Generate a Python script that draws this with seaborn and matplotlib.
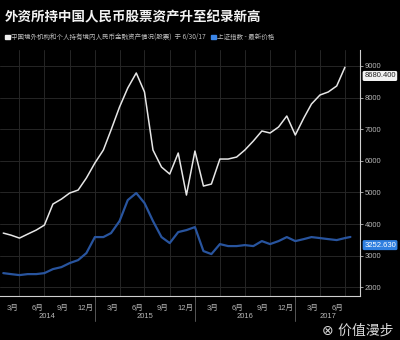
import matplotlib
matplotlib.use("Agg")
import matplotlib.pyplot as plt
import matplotlib.dates as mdates
import matplotlib.transforms as mtransforms
import seaborn as sns
import pandas as pd
import numpy as np

# ---------------- data ----------------
months = pd.date_range("2014-01-31", "2017-06-30", freq="ME")

foreign_holdings = [3715, 3650, 3557, 3683, 3810, 3968, 4633, 4790, 4981, 5076,
                    5456, 5930, 6342, 6975, 7703, 8304, 8778, 8177, 6342, 5804,
                    5582, 6247, 4918, 6310, 5203, 5266, 6057, 6057, 6120, 6342,
                    6627, 6943, 6880, 7070, 7418, 6816, 7354, 7797, 8082, 8177,
                    8367, 8960]

sse_dates = list(months) + [pd.Timestamp("2017-07-20")]
sse_close = [2109, 2078, 2046, 2078, 2078, 2109, 2236, 2299, 2426, 2521,
             2742, 3249, 3249, 3375, 3755, 4419, 4641, 4325, 3755, 3249,
             3059, 3407, 3470, 3565, 2806, 2711, 3027, 2964, 2964, 2995,
             2964, 3122, 3027, 3122, 3249, 3122, 3185, 3249, 3217, 3185,
             3154, 3217, 3252.63]

title = "外资所持中国人民币股票资产升至纪录新高"
legend_white = "中国境外机构和个人持有境内人民币金融资产情况(股票)  于 6/30/17"
legend_blue = "上证指数 - 最新价格"
white_label = "8680.400"
blue_label = "3252.630"
y_ticks = [2000, 3000, 4000, 5000, 6000, 7000, 8000, 9000]
quarter_ticks = pd.date_range("2014-03-31", "2017-06-30", freq="QE")
quarter_labels = [f"{d.month}月" for d in quarter_ticks]
years = ["2014", "2015", "2016", "2017"]
year_pos = pd.to_datetime(["2014-07-08", "2015-07-01", "2016-07-01", "2017-04-28"])
year_ends = pd.to_datetime(["2014-12-31", "2015-12-31", "2016-12-31"])

df_w = pd.DataFrame({"date": months, "value": foreign_holdings})
df_b = pd.DataFrame({"date": sse_dates, "value": sse_close})

# ---------------- style ----------------
sns.set_style("dark")
plt.rcParams["font.family"] = ["Liberation Sans", "Noto Sans CJK SC", "DejaVu Sans"]
bg = "#000000"
grid_c = "#262626"
txt_c = "#b8b8b8"

fig = plt.figure(figsize=(4.0, 3.4), dpi=100, facecolor=bg)
ax = fig.add_axes([0.0, 0.129, 0.9, 0.724])
ax.set_facecolor(bg)
ax2 = ax.twinx()

sns.lineplot(data=df_w, x="date", y="value", ax=ax, color="#e6e6e6", linewidth=1.1)
sns.lineplot(data=df_b, x="date", y="value", ax=ax2, color="#28549e", linewidth=1.6)

xlim = (pd.Timestamp("2014-01-19"), pd.Timestamp("2017-08-24"))
ax.set_xlim(xlim)
ax.set_ylim(1721, 9506)
ax2.set_ylim(1721 - 340, 9506 - 340)

ax.set_xlabel("")
ax.set_ylabel("")
ax2.set_ylabel("")
ax2.set_yticks([])
ax2.grid(False)
for s in ax2.spines.values():
    s.set_visible(False)

# y axis on the right
ax.yaxis.tick_right()
ax.set_yticks(y_ticks)
ax.set_yticklabels([str(v) for v in y_ticks])
ax.tick_params(axis="y", colors=txt_c, labelsize=5.5, length=2, width=0.6, pad=1.5,
               left=False, right=True, labelleft=False, labelright=True)

# x axis
ax.set_xticks(quarter_ticks)
ax.set_xticklabels(quarter_labels)
ax.tick_params(axis="x", which="major", colors=txt_c, labelsize=5.5, length=5,
               width=0.6, pad=1, direction="out")
for lbl in ax.get_xticklabels():
    lbl.set_ha("right")
    lbl.set_transform(lbl.get_transform() + mtransforms.ScaledTranslation(-1 / 72, 0, fig.dpi_scale_trans))
ax.set_xticks(year_pos, minor=True)
ax.set_xticklabels(years, minor=True)
ax.tick_params(axis="x", which="minor", colors=txt_c, labelsize=5.5, length=0, pad=12)

ax.grid(True, which="major", color=grid_c, linewidth=0.7)
ax.grid(False, which="minor")

for name, s in ax.spines.items():
    if name in ("right", "bottom"):
        s.set_visible(True)
        s.set_color("#d0d0d0")
        s.set_linewidth(0.8)
    else:
        s.set_visible(False)

# year separators
for d in year_ends:
    ax.plot([d, d], [0, -0.1], transform=ax.get_xaxis_transform(), color="#555555",
            linewidth=0.7, clip_on=False)

# last value labels
ax.annotate(white_label, xy=(1.0, 8684), xycoords=("axes fraction", "data"),
            xytext=(3, 0), textcoords="offset points", fontsize=5.5, color="#222222",
            va="center", ha="left",
            bbox=dict(boxstyle="round,pad=0.2", fc="#f2f2f2", ec="none"))
ax.annotate(blue_label, xy=(1.0, 3335), xycoords=("axes fraction", "data"),
            xytext=(3, 0), textcoords="offset points", fontsize=5.5, color="#ffffff",
            va="center", ha="left",
            bbox=dict(boxstyle="round,pad=0.2", fc="#2f7fe0", ec="none"))

# title & legend
fig.text(0.012, 0.948, title, color="#f2f2f2", fontsize=9.7, fontweight="bold",
         family=["Noto Sans CJK SC"], va="center", ha="left")
fig.patches.append(plt.Rectangle((0.012, 0.884), 0.012, 0.014, transform=fig.transFigure,
                                 color="#eeeeee"))
fig.text(0.027, 0.891, legend_white, color="#bdbdbd", fontsize=4.7,
         family=["Noto Sans CJK SC", "DejaVu Sans"], va="center", ha="left")
fig.patches.append(plt.Rectangle((0.527, 0.884), 0.012, 0.014, transform=fig.transFigure,
                                 color="#3b86e8"))
fig.text(0.543, 0.891, legend_blue, color="#bdbdbd", fontsize=4.7,
         family=["Noto Sans CJK SC", "DejaVu Sans"], va="center", ha="left")

# watermark
fig.text(0.985, 0.028, "⊗ 价值漫步", color="#f0f0f0", fontsize=10,
         family=["DejaVu Sans", "Noto Sans CJK SC"], va="center", ha="right", alpha=0.9)

fig.savefig("out.png", dpi=100, facecolor=bg)
